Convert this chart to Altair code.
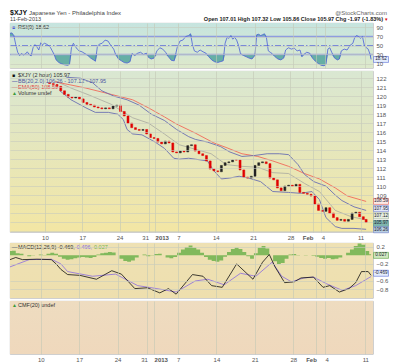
import altair as alt
import pandas as pd

FONT = "Liberation Sans"
W = 363
H_RSI, H_PX, H_MACD, H_CMF = 45, 161, 55, 53

# ---------------- time axis (1 unit = 3 trading hours) ----------------
tick_k = [32, 72, 112, 143, 150, 175, 215, 255, 295, 319, 328, 370]
tick_lbl = ["10", "17", "24", "31", "2013", "7", "14", "21", "28", "Feb", "4", "11"]
bold_k = [150, 319]
right_k = [143, 319]
left_k = [150, 328]

# ---------------- price (2 hour closes) ----------------
price_k = list(range(37, 374, 4)) + [376]
price_close = [121.4, 121.3, 121.1, 120.6, 120.2, 119.9, 119.8, 119.9, 119.7, 119.3,
               119.1, 119.0, 118.8, 118.7, 118.6, 118.7, 118.6, 118.9, 119.0, 118.3,
               117.8, 117.0, 116.5, 116.3, 116.2, 116.3, 115.8, 115.4, 115.3, 114.9,
               114.7, 115.0, 114.8, 113.8, 113.7, 113.9, 113.8, 114.5, 114.6, 113.9,
               113.6, 113.4, 112.8, 111.9, 111.7, 111.6, 112.3, 112.6, 112.7, 112.9,
               112.9, 111.8, 111.0, 110.9, 111.1, 112.3, 112.6, 112.7, 112.5, 110.9,
               110.7, 109.8, 109.5, 110.0, 110.1, 110.0, 110.2, 109.3, 109.2, 109.1,
               108.9, 108.0, 107.3, 107.2, 107.6, 107.0, 106.5, 106.2, 106.3, 106.1,
               106.3, 107.0, 107.1, 106.6, 106.3, 105.97]
first_open = 121.5

bb_up_k = [55, 70, 83, 93, 106, 120, 133, 146, 160, 173, 186, 193, 206, 220, 230, 243,
           256, 270, 283, 293, 303, 310, 320, 333, 343, 350, 363, 376]
bb_up_v = [122.1, 122.0, 121.5, 120.6, 120.0, 119.6, 119.0, 118.0, 117.3, 116.3, 115.5,
           115.2, 114.9, 114.4, 113.8, 113.3, 113.4, 113.6, 113.6, 113.5, 112.4, 111.3,
           110.5, 110.0, 109.0, 108.4, 107.7, 107.3]
bb_lo_k = [48, 60, 76, 86, 100, 110, 116, 120, 126, 136, 150, 160, 170, 176, 186, 193,
           206, 213, 221, 230, 240, 250, 263, 276, 293, 306, 318, 326, 333, 343, 350, 363, 376]
bb_lo_v = [120.6, 119.6, 118.7, 118.2, 118.2, 118.0, 117.4, 116.3, 115.8, 115.7, 114.9,
           114.2, 113.1, 113.0, 113.1, 113.0, 112.8, 111.7, 110.8, 110.9, 111.1, 110.9,
           110.5, 109.4, 109.3, 109.2, 109.4, 108.5, 106.5, 105.5, 105.3, 105.3, 105.2]
bb_mid_k = [43, 60, 80, 103, 126, 143, 160, 176, 193, 210, 226, 243, 260, 276, 293, 310,
            326, 343, 360, 376]
bb_mid_v = [121.7, 120.9, 120.1, 119.1, 117.6, 117.0, 115.8, 114.6, 114.1, 113.6, 112.4,
            112.2, 112.1, 111.5, 111.4, 110.3, 109.4, 107.3, 106.6, 106.25]
ema_k = [43, 76, 103, 126, 143, 160, 173, 193, 213, 226, 243, 260, 276, 293, 310, 326,
         343, 356, 376]
ema_v = [121.6, 120.9, 120.2, 119.6, 118.7, 117.7, 116.9, 115.9, 114.8, 114.3, 113.6,
         113.3, 112.8, 112.2, 111.4, 110.8, 109.8, 108.9, 108.3]
price_ticks = list(range(105, 123))
price_label_min = 109
# value boxes at the right edge (stacked as in the reference)
box_pos = [108.3, 107.5, 106.7, 105.85, 105.15]
box_lbl = ["108.59", "107.95", "107.12", "105.97", "106.26"]
box_fill = ["#fbe9e6", "#e3e8f7", "#e6eee0", "#7fb6ad", "#b9cfe0"]
box_stroke = ["#e05a50", "#6a78c8", "#9aaa90", "#4f8f86", "#6a78c8"]

# ---------------- RSI(9) ----------------
rsi_k = [0, 2, 4, 6, 8, 10, 12, 14, 16, 18, 20, 22, 24, 26, 28, 30, 32, 34, 36, 39, 42, 44,
         46, 48, 51, 54, 57, 60, 62, 64, 66, 68, 70, 72, 75, 78, 81, 84, 87, 89, 91, 93, 96,
         99, 102, 105, 108, 110, 113, 116, 119, 122, 125, 127, 130, 133, 136, 139, 142, 144,
         147, 150, 153, 156, 159, 162, 165, 168, 171, 174, 177, 180, 183, 186, 188, 190, 192,
         195, 198, 201, 204, 207, 210, 213, 216, 219, 222, 224, 226, 228, 230, 232, 234, 236,
         238, 240, 243, 246, 249, 252, 255, 257, 259, 261, 263, 265, 267, 269, 271, 273, 276,
         279, 282, 285, 287, 290, 293, 296, 299, 302, 304, 306, 309, 312, 315, 318, 321, 324,
         327, 329, 331, 333, 335, 338, 341, 343, 345, 348, 351, 354, 357, 359, 361, 363, 365,
         367, 369, 371, 373, 375, 376]
rsi_v = [77, 78, 72, 52, 35, 28, 32, 29, 31, 36, 30, 27, 45, 52, 47, 40, 56, 52, 55, 52, 46,
         38, 30, 18, 12, 9, 7, 6, 8, 45, 55, 48, 42, 38, 36, 32, 28, 22, 18, 15, 48, 53, 55,
         62, 60, 50, 42, 30, 20, 16, 12, 11, 14, 32, 28, 33, 35, 30, 33, 24, 20, 22, 38, 45,
         42, 35, 25, 17, 16, 45, 60, 62, 70, 72, 76, 52, 38, 35, 40, 36, 33, 25, 18, 14, 12,
         14, 16, 55, 68, 66, 72, 64, 68, 62, 50, 32, 28, 25, 22, 20, 28, 74, 75, 72, 74, 76,
         68, 38, 35, 32, 25, 20, 18, 22, 40, 45, 42, 44, 38, 40, 25, 30, 35, 33, 22, 15, 10,
         6, 5, 8, 42, 45, 35, 22, 18, 20, 38, 42, 40, 50, 55, 68, 72, 70, 66, 70, 50, 45, 42,
         30, 19]
rsi_ticks = [10, 30, 50, 70, 90]

# ---------------- MACD(12,26,9) ----------------
macd_k = [0, 6, 13, 28, 43, 48, 53, 60, 73, 90, 106, 116, 130, 143, 156, 165, 173, 190,
          201, 210, 221, 236, 253, 263, 270, 276, 286, 296, 303, 316, 326, 333, 343, 353,
          360, 366, 373, 376]
macd_v = [-0.10, -0.05, -0.10, -0.09, -0.10, -0.20, -0.33, -0.45, -0.47, -0.56, -0.36,
          -0.44, -0.78, -0.76, -0.88, -0.78, -0.91, -0.45, -0.49, -0.71, -0.75, -0.20,
          -0.56, -0.16, 0.02, -0.27, -0.64, -0.62, -0.53, -0.51, -0.75, -0.71, -0.86,
          -0.78, -0.64, -0.38, -0.38, -0.469]
sig_k = [0, 20, 43, 53, 60, 86, 110, 133, 153, 173, 193, 206, 223, 240, 256, 273, 283,
         293, 306, 316, 330, 346, 360, 376]
sig_v = [-0.27, -0.10, -0.09, -0.20, -0.38, -0.49, -0.44, -0.71, -0.78, -0.86, -0.60,
         -0.56, -0.69, -0.42, -0.49, -0.16, -0.49, -0.62, -0.53, -0.51, -0.67, -0.82,
         -0.71, -0.496]
hist_k = list(range(0, 374, 4)) + [376]
hist_v = [0.10, 0.11, 0.05, 0.04, 0.00, -0.02, 0.01, 0.00, 0.02, 0.01, 0.04, 0.06, 0.04,
          -0.03, -0.08, -0.10, -0.09, -0.07, -0.05, -0.04, -0.05, -0.06, -0.04, 0.02, 0.05,
          0.06, 0.08, 0.07, 0.00, -0.08, -0.13, -0.15, -0.12, -0.05, 0.00, 0.02, -0.02,
          0.01, 0.03, 0.04, 0.00, -0.05, -0.07, -0.04, 0.06, 0.14, 0.19, 0.23, 0.18, 0.14,
          0.06, -0.04, -0.10, -0.13, -0.15, -0.12, -0.03, 0.08, 0.15, 0.18, 0.15, 0.08,
          -0.02, -0.08, 0.05, 0.18, 0.22, 0.16, 0.00, -0.14, -0.20, -0.18, -0.08, 0.02,
          0.03, 0.01, 0.00, 0.01, 0.00, -0.01, -0.03, -0.06, -0.08, -0.06, -0.09, -0.08,
          -0.05, 0.00, 0.06, 0.14, 0.22, 0.28, 0.25, 0.10, 0.027]
macd_ticks = [0.2, -0.2, -0.6, -0.8]

# ================= helpers =================
lbl_expr = " : ".join(f"datum.value == {k} ? '{l}'" for k, l in zip(tick_k, tick_lbl)) + " : ''"
bold_test = " || ".join(f"datum.value == {b}" for b in bold_k)
right_test = " || ".join(f"datum.value == {b}" for b in right_k)
left_test = " || ".join(f"datum.value == {b}" for b in left_k)


def xenc(show, field="k"):
    return alt.X(f"{field}:Q", scale=alt.Scale(domain=[0, 378], nice=False, zero=False),
                 axis=alt.Axis(values=tick_k, labelExpr=lbl_expr, labels=show, ticks=False,
                               domain=False, grid=True, gridColor="#c3c7b5", gridWidth=0.6,
                               title=None, labelFontSize=6, labelColor="#555", zindex=1,
                               labelPadding=2, labelFont=FONT, labelOverlap=False,
                               labelAlign={"condition": [{"test": right_test, "value": "right"},
                                                         {"test": left_test, "value": "left"}],
                                           "value": "center"},
                               labelFontWeight={"condition": {"test": bold_test, "value": "bold"},
                                                "value": "normal"}))


def yenc(field, domain, values, fmt=None, lexpr=None):
    ax = dict(orient="right", values=values, grid=True, gridColor="#c7cbbd", gridWidth=0.6,
              ticks=False, domain=False, labelFontSize=6, labelColor="#555", title=None,
              labelPadding=3, labelFont=FONT, zindex=1, labelOverlap=False)
    if fmt:
        ax["format"] = fmt
    if lexpr:
        ax["labelExpr"] = lexpr
    return alt.Y(f"{field}:Q", scale=alt.Scale(domain=domain, nice=False, zero=False),
                 axis=alt.Axis(**ax))


def label(text, x, y, color="#333", size=5.5, weight="normal", align="left"):
    return alt.Chart(pd.DataFrame({"t": [text]})).mark_text(
        align=align, baseline="middle", fontSize=size, color=color, fontWeight=weight,
        font=FONT).encode(x=alt.value(x), y=alt.value(y), text="t:N")


def background(top, bottom, h):
    g = alt.LinearGradient(gradient="linear", x1=0, x2=0, y1=0, y2=1,
                           stops=[alt.GradientStop(color=top, offset=0),
                                  alt.GradientStop(color=bottom, offset=1)])
    return alt.Chart(pd.DataFrame({"a": [0]})).mark_rect(fill=g).encode(
        x=alt.value(0), x2=alt.value(W), y=alt.value(0), y2=alt.value(h))


# ================= RSI panel =================
RD = [0, 100]
rsi_df = pd.DataFrame({"k": rsi_k, "v": rsi_v})
rb = alt.Chart(rsi_df)
rsi_lo = rb.transform_calculate(lo="min(datum.v, 30)").mark_area(
    color="#5aa9a0", opacity=0.9).encode(x=xenc(False), y=yenc("lo", RD, rsi_ticks), y2=alt.datum(30))
rsi_hi = rb.transform_calculate(hi="max(datum.v, 70)").mark_area(
    color="#5aa9a0", opacity=0.9).encode(x=xenc(False), y=yenc("hi", RD, rsi_ticks), y2=alt.datum(70))
lv = alt.Chart(pd.DataFrame({"lvl": [30, 70]})).mark_rule(color="#8e9de0", strokeWidth=1.4).encode(
    y=yenc("lvl", RD, rsi_ticks))
mid = alt.Chart(pd.DataFrame({"lvl": [50]})).mark_rule(
    color="#6f7fd8", strokeWidth=0.9, strokeDash=[6, 2, 1.5, 2]).encode(y=yenc("lvl", RD, rsi_ticks))
rsi_line = rb.mark_line(color="#4a5ed8", strokeWidth=0.8).encode(x=xenc(False), y=yenc("v", RD, rsi_ticks))
rsi_box_df = pd.DataFrame({"v": [rsi_v[-1]], "t": ["18.62"]})
rsi_box = alt.Chart(rsi_box_df).mark_rect(width=15, height=6, fill="#e4ecfb", stroke="#5a6fd8",
                                          strokeWidth=0.6).encode(x=alt.value(W + 8), y=yenc("v", RD, rsi_ticks))
rsi_box_t = alt.Chart(rsi_box_df).mark_text(fontSize=4.6, color="#223", font=FONT).encode(
    x=alt.value(W + 8), y=yenc("v", RD, rsi_ticks), text="t:N")

rsi_panel = alt.layer(
    background("#c6e4df", "#dde9cb", H_RSI),
    rsi_lo, rsi_hi, lv, mid, rsi_line, rsi_box, rsi_box_t,
    label("■", 2, 4, "#4a5ed8", 5), label("RSI(9) 18.62", 8, 4, "#333", 5.5),
    label("$XJY", 0, -10, "#111", 7, "bold"),
    label("Japanese Yen - Philadelphia Index", 19, -10, "#444", 6),
    label("11-Feb-2013", 0, -4, "#444", 5.5),
    label("@StockCharts.com", W + 14, -10, "#666", 6, align="right"),
    label("Open 107.01  High 107.32  Low 105.86  Close 105.97  Chg -1.97 (-1.83%)", W + 10, -4,
          "#222", 5.5, "bold", align="right"),
    label("▾", W + 15, -4, "#d00", 5, align="right"),
).properties(width=W, height=H_RSI)

# ================= price panel =================
PD_ = [104.9, 122.8]
opens = [first_open] + price_close[:-1]
pdf = pd.DataFrame({"k": price_k, "o": opens, "c": price_close})
pdf["dir"] = ["up" if c > o else "down" for o, c in zip(pdf["o"], pdf["c"])]
candles = alt.Chart(pdf).mark_bar(size=2.0, strokeWidth=0.5).encode(
    x=xenc(True), y=yenc("o", PD_, price_ticks), y2="c:Q",
    color=alt.Color("dir:N", scale=alt.Scale(domain=["up", "down"], range=["#222222", "#e00000"]), legend=None),
    stroke=alt.Stroke("dir:N", scale=alt.Scale(domain=["up", "down"], range=["#222222", "#e00000"]), legend=None))

plex = f"datum.value >= {price_label_min} ? datum.label : ''"


def pline(ks, vs, color, sw=0.9):
    return alt.Chart(pd.DataFrame({"k": ks, "p": vs})).mark_line(color=color, strokeWidth=sw).encode(
        x=xenc(True), y=yenc("p", PD_, price_ticks, lexpr=plex))


bdf = pd.DataFrame({"v": box_pos, "t": box_lbl, "f": box_fill, "s": box_stroke})
boxes = alt.Chart(bdf).mark_rect(width=15, height=6, strokeWidth=0.6).encode(
    x=alt.value(W + 8), y=yenc("v", PD_, price_ticks, lexpr=plex),
    fill=alt.Fill("f:N", scale=None), stroke=alt.Stroke("s:N", scale=None))
boxes_t = alt.Chart(bdf).mark_text(fontSize=4.6, color="#223", font=FONT).encode(
    x=alt.value(W + 8), y=yenc("v", PD_, price_ticks, lexpr=plex), text="t:N")

price_panel = alt.layer(
    background("#d9e7d2", "#f3e6a4", H_PX),
    pline(bb_mid_k, bb_mid_v, "#a8a8a0", 0.8),
    pline(ema_k, ema_v, "#f06a5a", 0.9),
    pline(bb_up_k, bb_up_v, "#6a6fb2", 0.9),
    pline(bb_lo_k, bb_lo_v, "#6a6fb2", 0.9),
    candles, boxes, boxes_t,
    label("■", 2, 4, "#111", 5), label("$XJY (2 hour) 105.97", 8, 4),
    label("—", 2, 10, "#6a6fb2", 5.5, "bold"), label("BB(20,2.0) 106.26 - 107.12 - 107.95", 8, 10, "#4a55a0"),
    label("—", 2, 16, "#f06a5a", 5.5, "bold"), label("EMA(50) 108.59", 8, 16, "#e04040"),
    label("▲", 2, 22, "#3a9a3a", 5), label("Volume undef", 8, 22),
).properties(width=W, height=H_PX)

# ================= MACD panel =================
MD = [-1.0, 0.29]
hist = alt.Chart(pd.DataFrame({"k": hist_k, "h": hist_v})).mark_area(
    color="#74b552", opacity=0.9, interpolate="step").encode(
    x=xenc(False), y=yenc("h", MD, macd_ticks, ".1f"), y2=alt.datum(0))
macd_line = alt.Chart(pd.DataFrame({"k": macd_k, "m": macd_v})).mark_line(
    color="#111", strokeWidth=0.8).encode(x=xenc(False), y=yenc("m", MD, macd_ticks, ".1f"))
sig_line = alt.Chart(pd.DataFrame({"k": sig_k, "s": sig_v})).mark_line(
    color="#8a6be0", strokeWidth=0.8).encode(x=xenc(False), y=yenc("s", MD, macd_ticks, ".1f"))
mbox_df = pd.DataFrame({"v": [0.0, -0.42], "t": ["0.027", "-0.469"],
                        "f": ["#cfe7bf", "#e4ecfb"], "s": ["#5aa040", "#5a6fd8"]})
mbox = alt.Chart(mbox_df).mark_rect(width=15, height=6, strokeWidth=0.6).encode(
    x=alt.value(W + 8), y=yenc("v", MD, macd_ticks, ".1f"),
    fill=alt.Fill("f:N", scale=None), stroke=alt.Stroke("s:N", scale=None))
mbox_t = alt.Chart(mbox_df).mark_text(fontSize=4.6, color="#223", font=FONT).encode(
    x=alt.value(W + 8), y=yenc("v", MD, macd_ticks, ".1f"), text="t:N")

macd_panel = alt.layer(
    background("#eee1b4", "#eedfae", H_MACD),
    hist, sig_line, macd_line, mbox, mbox_t,
    label("—", 2, 4, "#111", 5.5, "bold"), label("MACD(12,26,9) -0.469,", 8, 4),
    label("-0.496,", 65, 4, "#8a6be0"), label("0.027", 84, 4, "#74b552"),
).properties(width=W, height=H_MACD)

# ================= CMF panel =================
cmf_grid = alt.Chart(pd.DataFrame({"k": tick_k})).mark_rule(opacity=0).encode(x=xenc(True))
cmf_panel = alt.layer(
    background("#eedcc0", "#efd8bc", H_CMF),
    cmf_grid,
    label("▲", 2, 4, "#3a9a3a", 5), label("CMF(20) undef", 8, 4),
).properties(width=W, height=H_CMF)

chart = alt.vconcat(rsi_panel, price_panel, macd_panel, cmf_panel, spacing=1).properties(
    padding={"left": 0, "top": 0, "right": 0, "bottom": 0}
).configure(font=FONT).configure_view(stroke="#b4b4b4", strokeWidth=0.8)

chart.save("out.html", embed_options={"renderer": "svg", "actions": False})
